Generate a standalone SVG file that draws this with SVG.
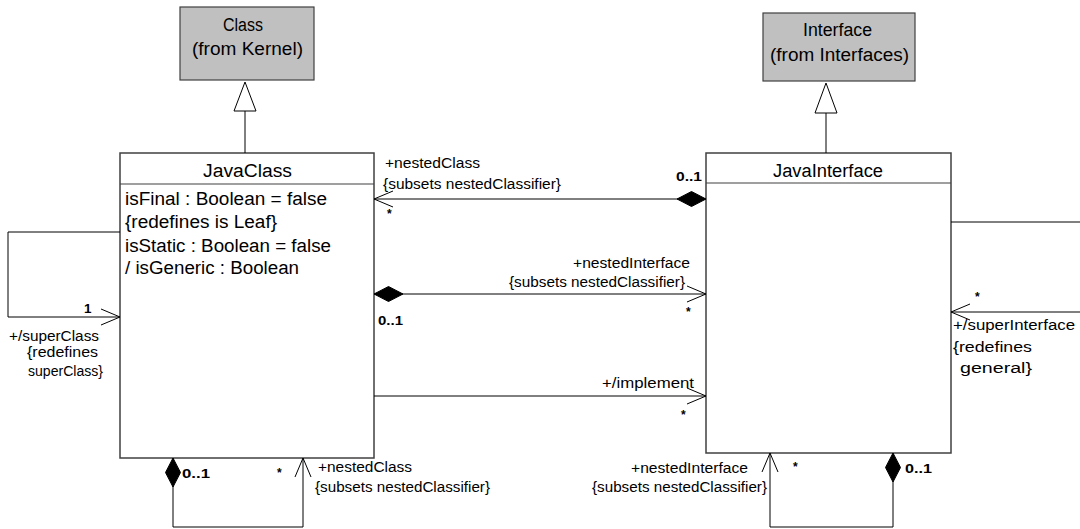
<svg xmlns="http://www.w3.org/2000/svg" width="1080" height="529" viewBox="0 0 1080 529">
<style>
text{font-family:"Liberation Sans",Arial,sans-serif;fill:#000}
.t{font-size:18px}
.l{font-size:14px}
.b{font-size:13.5px;font-weight:bold}
.s{font-size:12px;font-weight:bold}
.box{fill:#fff;stroke:#404040;stroke-width:1.5}
.ext{fill:#c0c0c0;stroke:#404040;stroke-width:1.2}
.ln{fill:none;stroke:#000;stroke-width:1}
.gen{fill:#fff;stroke:#000;stroke-width:1}
</style>
<defs>
<marker id="arrow" markerUnits="userSpaceOnUse" viewBox="-21 -10 23 20" refX="0" refY="0" markerWidth="23" markerHeight="20" orient="auto">
<path d="M-19,-8 L0,0 L-19,8" fill="none" stroke="#000" stroke-width="1"/>
</marker>
<marker id="diamond" markerUnits="userSpaceOnUse" viewBox="-1 -9 32 18" refX="0" refY="0" markerWidth="32" markerHeight="18" orient="auto">
<path d="M0,0 L14.5,-7.5 L29,0 L14.5,7.5 Z" fill="#000" stroke="#000" stroke-width="1"/>
</marker>
</defs>

<g id="Class">
<rect class="ext" x="180" y="7" width="134" height="73"/>
<text class="t" x="223" y="31" textLength="40" lengthAdjust="spacingAndGlyphs">Class</text>
<text class="t" x="192" y="55" textLength="111" lengthAdjust="spacingAndGlyphs">(from Kernel)</text>
</g>

<g id="Interface">
<rect class="ext" x="763" y="13" width="152" height="68"/>
<text class="t" x="803" y="36" textLength="69" lengthAdjust="spacingAndGlyphs">Interface</text>
<text class="t" x="770" y="61" textLength="139" lengthAdjust="spacingAndGlyphs">(from Interfaces)</text>
</g>

<g id="JavaClass">
<rect class="box" x="120" y="153" width="254" height="305"/>
<line x1="120" y1="184" x2="374" y2="184" stroke="#404040" stroke-width="1.2"/>
<text class="t" x="203" y="177" textLength="89" lengthAdjust="spacingAndGlyphs">JavaClass</text>
<text class="t" x="125" y="205" textLength="202" lengthAdjust="spacingAndGlyphs">isFinal : Boolean = false</text>
<text class="t" x="125" y="228" textLength="152" lengthAdjust="spacingAndGlyphs">{redefines is Leaf}</text>
<text class="t" x="125" y="252" textLength="206" lengthAdjust="spacingAndGlyphs">isStatic : Boolean = false</text>
<text class="t" x="125" y="274" textLength="174" lengthAdjust="spacingAndGlyphs">/ isGeneric : Boolean</text>
</g>

<g id="JavaInterface">
<rect class="box" x="706" y="153" width="245" height="300"/>
<line x1="706" y1="183" x2="951" y2="183" stroke="#404040" stroke-width="1.2"/>
<text class="t" x="773" y="177" textLength="110" lengthAdjust="spacingAndGlyphs">JavaInterface</text>
</g>

<g id="connectors">
<line class="ln" x1="245" y1="153" x2="245" y2="111"/>
<polygon class="gen" points="245,82 234,111 256,111"/>
<line class="ln" x1="826" y1="153" x2="826" y2="113"/>
<polygon class="gen" points="826,83 815,113 837,113"/>

<path class="ln" d="M706,199 L374,199" marker-start="url(#diamond)" marker-end="url(#arrow)"/>
<path class="ln" d="M374,294 L706,294" marker-start="url(#diamond)" marker-end="url(#arrow)"/>
<path class="ln" d="M374,396 L706,396" marker-end="url(#arrow)"/>
<path class="ln" d="M120,232 L8,232 L8,317 L120,317" marker-end="url(#arrow)"/>
<path class="ln" d="M951,222 L1083,222 L1083,312 L951,312" marker-end="url(#arrow)"/>
<path class="ln" d="M173,458 L173,527 L303,527 L303,458" marker-start="url(#diamond)" marker-end="url(#arrow)"/>
<path class="ln" d="M893,453 L893,527 L770,527 L770,453" marker-start="url(#diamond)" marker-end="url(#arrow)"/>
</g>

<g id="labels">
<text class="l" x="385" y="168" textLength="95" lengthAdjust="spacingAndGlyphs">+nestedClass</text>
<text class="l" x="383" y="189" textLength="178" lengthAdjust="spacingAndGlyphs">{subsets nestedClassifier}</text>
<text class="b" x="676" y="181" textLength="26" lengthAdjust="spacingAndGlyphs">0..1</text>
<text class="s" x="387" y="218">*</text>

<text class="l" x="573" y="268" textLength="117" lengthAdjust="spacingAndGlyphs">+nestedInterface</text>
<text class="l" x="509" y="287" textLength="176" lengthAdjust="spacingAndGlyphs">{subsets nestedClassifier}</text>
<text class="b" x="378" y="325" textLength="25" lengthAdjust="spacingAndGlyphs">0..1</text>
<text class="s" x="686" y="316">*</text>

<text class="l" x="602" y="388" textLength="92" lengthAdjust="spacingAndGlyphs">+/implement</text>
<text class="s" x="681" y="419">*</text>

<text class="b" x="84" y="313">1</text>
<text class="l" x="9" y="341" textLength="90" lengthAdjust="spacingAndGlyphs">+/superClass</text>
<text class="l" x="27" y="357" textLength="71" lengthAdjust="spacingAndGlyphs">{redefines</text>
<text class="l" x="28" y="376" textLength="75" lengthAdjust="spacingAndGlyphs">superClass}</text>

<text class="s" x="975" y="301">*</text>
<text class="l" x="953" y="330" textLength="122" lengthAdjust="spacingAndGlyphs">+/superInterface</text>
<text class="l" x="953" y="352" textLength="79" lengthAdjust="spacingAndGlyphs">{redefines</text>
<text class="l" x="960" y="373" textLength="72" lengthAdjust="spacingAndGlyphs">general}</text>

<text class="b" x="182" y="478" textLength="28" lengthAdjust="spacingAndGlyphs">0..1</text>
<text class="s" x="277" y="477">*</text>
<text class="l" x="318" y="472" textLength="94" lengthAdjust="spacingAndGlyphs">+nestedClass</text>
<text class="l" x="315" y="492" textLength="175" lengthAdjust="spacingAndGlyphs">{subsets nestedClassifier}</text>

<text class="l" x="631" y="473" textLength="117" lengthAdjust="spacingAndGlyphs">+nestedInterface</text>
<text class="l" x="592" y="492" textLength="175" lengthAdjust="spacingAndGlyphs">{subsets nestedClassifier}</text>
<text class="s" x="793" y="471">*</text>
<text class="b" x="905" y="473" textLength="27" lengthAdjust="spacingAndGlyphs">0..1</text>
</g>
</svg>
